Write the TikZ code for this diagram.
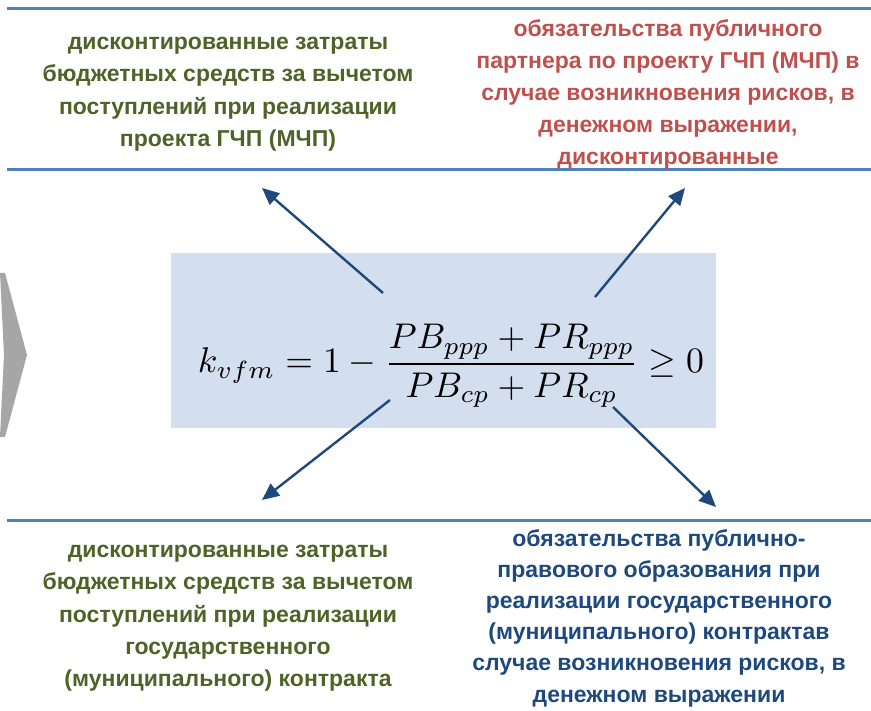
\documentclass[tikz,border=0pt]{standalone}
\usepackage{fontspec}
\usepackage{graphicx}
\setmainfont{Liberation Sans}
\usetikzlibrary{arrows.meta}
\definecolor{rulecol}{HTML}{4F81BD}
\definecolor{boxfill}{HTML}{D3DFEE}
\definecolor{arrowcol}{HTML}{1F497D}
\definecolor{greentxt}{HTML}{4F6228}
\definecolor{redtxt}{HTML}{C0504D}
\definecolor{bluetxt}{HTML}{1F497D}
\definecolor{chevcol}{HTML}{A6A6A6}
\tikzset{
  hrule/.style={draw=rulecol, line width=3pt},
  label/.style={align=center, font=\fontsize{23}{32.2}\selectfont\bfseries, inner sep=0pt},
  ptr/.style={draw=arrowcol, line width=2.4pt, -{Triangle[length=17pt,width=15pt]}},
}
\begin{document}
\begin{tikzpicture}[x=1pt,y=-1pt]
\useasboundingbox[fill=white] (0,0) rectangle (871,711);
% chevron
\fill[chevcol] (0,273) -- (5,273) -- (27,355) -- (5,437) -- (0,437) -- (4,355) -- cycle;
% rules
\draw[hrule] (7,9) -- (871,9);
\draw[hrule] (7,170) -- (871,170);
\draw[hrule] (7,520) -- (871,520);
% box
\fill[boxfill] (171,253) rectangle (716,428);
\node[inner sep=0pt] (formula) at (451,366) {\resizebox{506pt}{!}{$\displaystyle k_{vfm}=1-\frac{PB_{ppp}+PR_{ppp}}{PB_{cp}+PR_{cp}}\geq 0$}};
% texts
\node[label, text=greentxt, anchor=north] (tl) at (228,37) {дисконтированные затраты\\бюджетных средств за вычетом\\поступлений при реализации\\проекта ГЧП (МЧП)};
\node[label, text=redtxt, anchor=north] (tr) at (668,19) {обязательства публичного\\партнера по проекту ГЧП (МЧП) в\\случае возникновения рисков, в\\денежном выражении,\\дисконтированные};
\node[label, text=greentxt, anchor=north] (bl) at (228,545) {дисконтированные затраты\\бюджетных средств за вычетом\\поступлений при реализации\\государственного\\(муниципального) контракта};
\node[label, text=bluetxt, anchor=north, font=\fontsize{23}{31.2}\selectfont\bfseries] (br) at (659,529) {обязательства публично-\\правового образования при\\реализации государственного\\(муниципального) контрактав\\случае возникновения рисков, в\\денежном выражении};
% arrow ends
\coordinate (s1) at (383,293); \coordinate (e1) at (262,188);
\coordinate (s2) at (595,297); \coordinate (e2) at (685,188);
\coordinate (s3) at (390,400); \coordinate (e3) at (262,500);
\coordinate (s4) at (613,407); \coordinate (e4) at (716,507);
\draw[ptr] (s1) -- (e1);
\draw[ptr] (s2) -- (e2);
\draw[ptr] (s3) -- (e3);
\draw[ptr] (s4) -- (e4);
\end{tikzpicture}
\end{document}
